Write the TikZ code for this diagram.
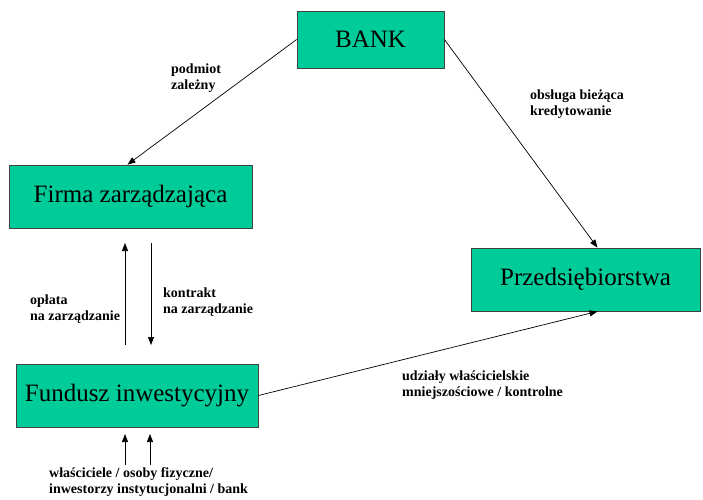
\documentclass[tikz,border=0pt]{standalone}
\usepackage{fontspec}
\setmainfont{Liberation Serif}
\usetikzlibrary{arrows.meta}
\definecolor{boxgreen}{RGB}{0,204,153}
\tikzset{
	box/.style={draw=black!75,line width=0.8pt,fill=boxgreen,inner sep=0pt,font=\fontsize{25}{30}\selectfont},
	lbl/.style={anchor=base west,align=left,inner sep=0pt,font=\bfseries\fontsize{14}{16}\selectfont},
	arr/.style={line width=0.7pt,-{Triangle[length=8pt,width=6pt]}}
}
\begin{document}
	\begin{tikzpicture}[x=1pt,y=-1pt]
		\useasboundingbox (0,0) rectangle (703,499);
		\node [box,minimum width=147pt,minimum height=57pt] (bank) at (370.5,39.5) {BANK};
		\node [box,minimum width=243pt,minimum height=63pt] (firma) at (130.5,196.5) {Firma zarządzająca};
		\node [box,minimum width=229pt,minimum height=63pt] (przed) at (585.5,279.5) {Przedsiębiorstwa};
		\node [box,minimum width=242pt,minimum height=63pt] (fundusz) at (137,395.5) {Fundusz inwestycyjny};
		\coordinate (P) at (125,345);
		\coordinate (Q) at (125,243);
		\coordinate (R) at (151,243);
		\coordinate (S) at (151,345);
		\coordinate (U) at (125,465);
		\coordinate (V) at (150,465);
		\coordinate (U') at (125,434);
		\coordinate (V') at (150,434);
		\draw [arr] (bank.west) to ([xshift=-3pt]firma.north);
		\draw [arr] (bank.east) to ([xshift=12pt]przed.north);
		\draw [arr] (fundusz.east) to ([xshift=12pt]przed.south);
		\draw [arr] (P) to (Q);
		\draw [arr] (R) to (S);
		\draw [arr] (U) to (U');
		\draw [arr] (V) to (V');
		\node [lbl] (podmiot) at (171,89) {podmiot\\zależny};
		\node [lbl] (obsluga) at (530,115) {obsługa bieżąca\\kredytowanie};
		\node [lbl] (oplata) at (30,320) {opłata\\na zarządzanie};
		\node [lbl] (kontrakt) at (163,313) {kontrakt\\na zarządzanie};
		\node [lbl] (udzialy) at (402,396) {udziały właścicielskie\\mniejszościowe / kontrolne};
		\node [lbl] (wlasciciele) at (49,493) {właściciele / osoby fizyczne/\\inwestorzy instytucjonalni / bank};
	\end{tikzpicture}
\end{document}
